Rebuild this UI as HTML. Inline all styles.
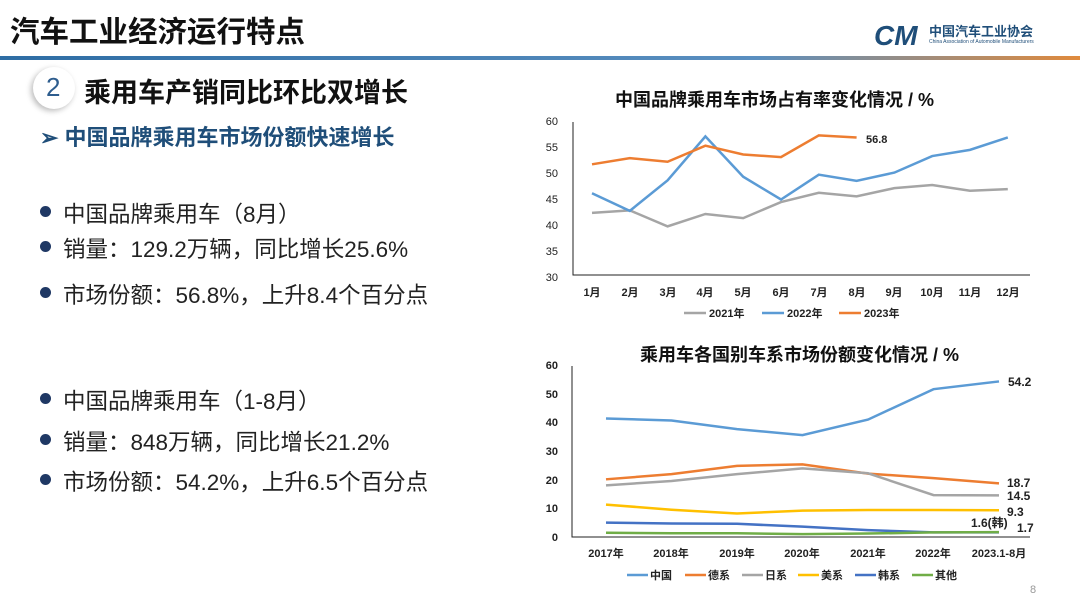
<!DOCTYPE html>
<html><head><meta charset="utf-8"><style>
body{margin:0;width:1080px;height:607px;background:#fff;font-family:"Liberation Sans","Noto Sans CJK SC",sans-serif;overflow:hidden;position:relative}
.a{position:absolute;white-space:nowrap}
.b{font-size:22.5px;color:#222}
.dot{position:absolute;width:11px;height:11px;border-radius:50%;background:#1f3864}
svg text{font-family:"Liberation Sans","Noto Sans CJK SC",sans-serif}
</style></head><body>
<div class="a" style="left:10px;top:9px;font-size:29.5px;font-weight:bold;color:#111">汽车工业经济运行特点</div>
<div style="position:absolute;left:0;top:56px;width:1080px;height:4px;background:linear-gradient(90deg,#2e6da4,#5a8fc0 70%,#e08a3c)"></div>
<div class="a" style="left:874px;top:20px;font-size:28px;font-weight:bold;font-style:italic;color:#1f4e79">CM</div>
<div class="a" style="left:929px;top:21px;font-size:13px;font-weight:bold;color:#1f4e79">中国汽车工业协会</div>
<div class="a" style="left:929px;top:39px;font-size:5px;color:#1f4e79">China Association of Automobile Manufacturers</div>
<div style="position:absolute;left:33px;top:67px;width:42px;height:42px;border-radius:50%;background:#fff;box-shadow:-2px 2px 6px #bbb"></div>
<div class="a" style="left:46px;top:72px;font-size:26px;color:#2e5d8e">2</div>
<div class="a" style="left:84px;top:71px;font-size:27px;font-weight:bold;color:#111">乘用车产销同比环比双增长</div>
<div class="a" style="left:40px;top:120px;font-size:22px;font-weight:bold;color:#1f4e79">➢ 中国品牌乘用车市场份额快速增长</div>
<div class="dot" style="left:40px;top:206px"></div><div class="a b" style="left:63px;top:197px">中国品牌乘用车（8月）</div>
<div class="dot" style="left:40px;top:241px"></div><div class="a b" style="left:63px;top:232px">销量：129.2万辆，同比增长25.6%</div>
<div class="dot" style="left:40px;top:287px"></div><div class="a b" style="left:63px;top:278px">市场份额：56.8%，上升8.4个百分点</div>
<div class="dot" style="left:40px;top:393px"></div><div class="a b" style="left:63px;top:384px">中国品牌乘用车（1-8月）</div>
<div class="dot" style="left:40px;top:434px"></div><div class="a b" style="left:63px;top:425px">销量：848万辆，同比增长21.2%</div>
<div class="dot" style="left:40px;top:474px"></div><div class="a b" style="left:63px;top:465px">市场份额：54.2%，上升6.5个百分点</div>
<div class="a" style="left:1030px;top:584px;font-size:11px;color:#999">8</div>
<svg width="1080" height="607" style="position:absolute;left:0;top:0">
<text x="615" y="106" font-size="18" font-weight="bold" fill="#111">中国品牌乘用车市场占有率变化情况 / %</text>
<g font-size="11" fill="#222" text-anchor="end">
<text x="558" y="125">60</text><text x="558" y="151">55</text><text x="558" y="177">50</text><text x="558" y="203">45</text><text x="558" y="229">40</text><text x="558" y="255">35</text><text x="558" y="281">30</text></g>
<polyline points="573,122 573,275 1030,275" fill="none" stroke="#222" stroke-width="1"/>
<g font-size="11" font-weight="bold" fill="#222" text-anchor="middle">
<text x="592" y="296">1月</text><text x="630" y="296">2月</text><text x="668" y="296">3月</text><text x="705" y="296">4月</text><text x="743" y="296">5月</text><text x="781" y="296">6月</text><text x="819" y="296">7月</text><text x="857" y="296">8月</text><text x="894" y="296">9月</text><text x="932" y="296">10月</text><text x="970" y="296">11月</text><text x="1008" y="296">12月</text></g>
<g transform="translate(592,431.1) scale(37.8,-5.17)" fill="none" stroke-width="2.5">
<polyline vector-effect="non-scaling-stroke" stroke="#a5a5a5" points="0,42.2 1,42.7 2,39.6 3,42.0 4,41.2 5,44.3 6,46.1 7,45.4 8,47.0 9,47.6 10,46.5 11,46.8"/>
<polyline vector-effect="non-scaling-stroke" stroke="#5b9bd5" points="0,46.0 1,42.6 2,48.5 3,57.0 4,49.2 5,44.8 6,49.6 7,48.4 8,50.0 9,53.2 10,54.4 11,56.8"/>
<polyline vector-effect="non-scaling-stroke" stroke="#ed7d31" points="0,51.6 1,52.8 2,52.1 3,55.2 4,53.5 5,53.0 6,57.2 7,56.8"/>
</g>
<text x="866" y="143" font-size="11" font-weight="bold" fill="#222">56.8</text>
<g font-size="11" font-weight="bold" fill="#222">
<line x1="684" y1="313" x2="706" y2="313" stroke="#a5a5a5" stroke-width="2.5"/><text x="709" y="317">2021年</text>
<line x1="762" y1="313" x2="784" y2="313" stroke="#5b9bd5" stroke-width="2.5"/><text x="787" y="317">2022年</text>
<line x1="839" y1="313" x2="861" y2="313" stroke="#ed7d31" stroke-width="2.5"/><text x="864" y="317">2023年</text></g>

<text x="640" y="361" font-size="18" font-weight="bold" fill="#111">乘用车各国别车系市场份额变化情况 / %</text>
<g font-size="11" font-weight="bold" fill="#222" text-anchor="end">
<text x="558" y="369">60</text><text x="558" y="398">50</text><text x="558" y="426">40</text><text x="558" y="455">30</text><text x="558" y="484">20</text><text x="558" y="512">10</text><text x="558" y="541">0</text></g>
<polyline points="572,366 572,537 1030,537" fill="none" stroke="#222" stroke-width="1"/>
<g font-size="11" font-weight="bold" fill="#222" text-anchor="middle">
<text x="606" y="557">2017年</text><text x="671" y="557">2018年</text><text x="737" y="557">2019年</text><text x="802" y="557">2020年</text><text x="868" y="557">2021年</text><text x="933" y="557">2022年</text><text x="999" y="557">2023.1-8月</text></g>
<g transform="translate(606,537) scale(65.5,-2.87)" fill="none" stroke-width="2.5">
<polyline vector-effect="non-scaling-stroke" stroke="#5b9bd5" points="0,41.3 1,40.6 2,37.6 3,35.5 4,40.9 5,51.5 6,54.2"/>
<polyline vector-effect="non-scaling-stroke" stroke="#ed7d31" points="0,20.1 1,21.9 2,24.8 3,25.3 4,22.1 5,20.5 6,18.7"/>
<polyline vector-effect="non-scaling-stroke" stroke="#a5a5a5" points="0,18 1,19.5 2,21.9 3,23.9 4,22.2 5,14.6 6,14.5"/>
<polyline vector-effect="non-scaling-stroke" stroke="#ffc000" points="0,11.3 1,9.5 2,8.2 3,9.2 4,9.4 5,9.4 6,9.3"/>
<polyline vector-effect="non-scaling-stroke" stroke="#4472c4" points="0,5 1,4.7 2,4.6 3,3.6 4,2.4 5,1.6 6,1.6"/>
<polyline vector-effect="non-scaling-stroke" stroke="#70ad47" points="0,1.5 1,1.3 2,1.3 3,1.0 4,1.2 5,1.6 6,1.7"/>
</g>
<g font-size="12" font-weight="bold" fill="#222">
<text x="1008" y="386">54.2</text><text x="1007" y="487">18.7</text><text x="1007" y="500">14.5</text><text x="1007" y="516">9.3</text><text x="971" y="527">1.6(韩)</text><text x="1017" y="532">1.7</text></g>
<g font-size="11" font-weight="bold" fill="#222">
<line x1="627" y1="575" x2="648" y2="575" stroke="#5b9bd5" stroke-width="2.5"/><text x="650" y="579">中国</text>
<line x1="685" y1="575" x2="706" y2="575" stroke="#ed7d31" stroke-width="2.5"/><text x="708" y="579">德系</text>
<line x1="742" y1="575" x2="763" y2="575" stroke="#a5a5a5" stroke-width="2.5"/><text x="765" y="579">日系</text>
<line x1="798" y1="575" x2="819" y2="575" stroke="#ffc000" stroke-width="2.5"/><text x="821" y="579">美系</text>
<line x1="855" y1="575" x2="876" y2="575" stroke="#4472c4" stroke-width="2.5"/><text x="878" y="579">韩系</text>
<line x1="912" y1="575" x2="933" y2="575" stroke="#70ad47" stroke-width="2.5"/><text x="935" y="579">其他</text></g>
</svg>
</body></html>
